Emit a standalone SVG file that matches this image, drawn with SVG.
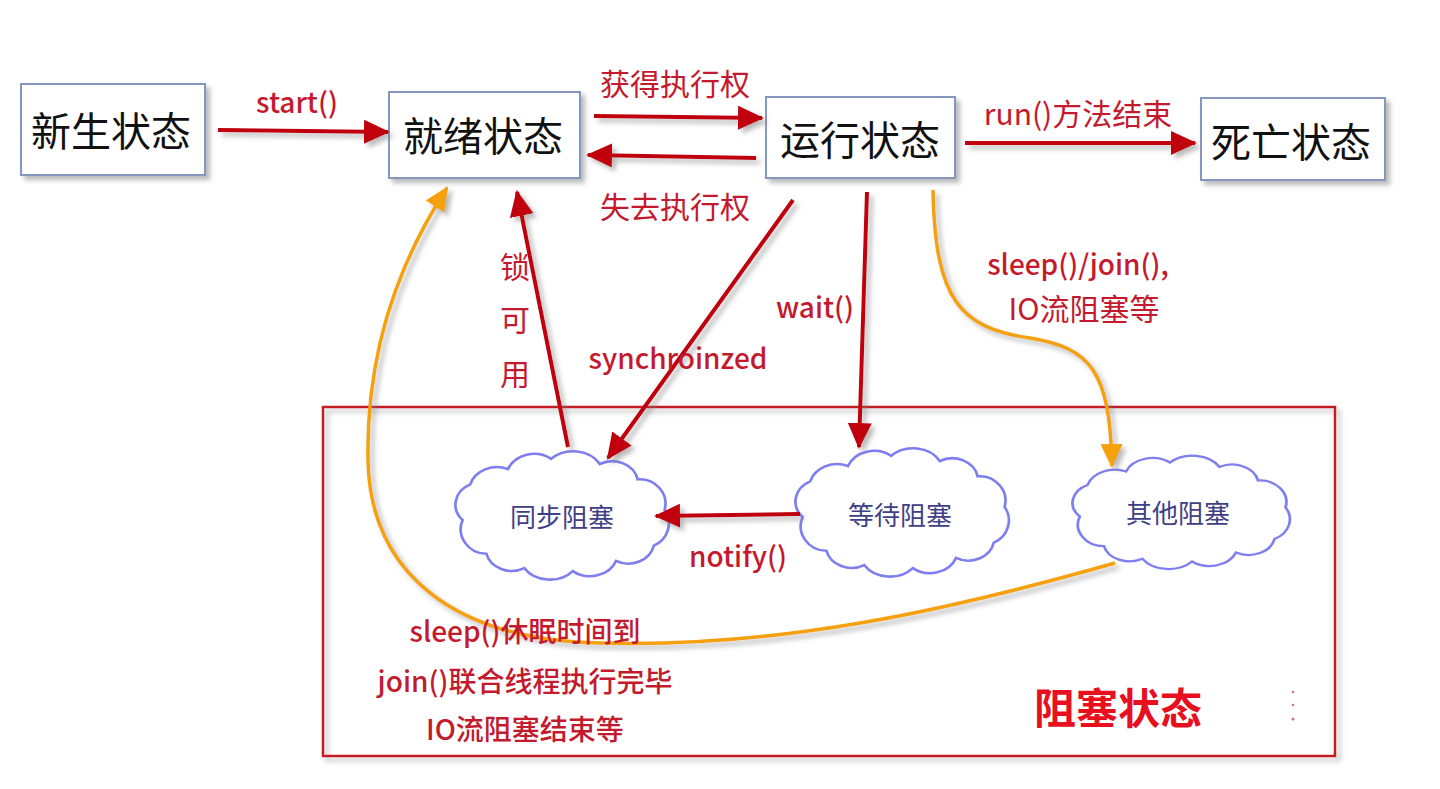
<svg xmlns="http://www.w3.org/2000/svg" width="1440" height="789" viewBox="0 0 1440 789">
<style>
  .box { fill: #ffffff; stroke: #8597be; stroke-width: 2; }
  .boxtext { font-family: "Noto Sans CJK SC", sans-serif; font-size: 40px; fill: #111111; text-anchor: middle; dominant-baseline: central; }
  .lbl { font-family: "Noto Sans CJK SC", sans-serif; font-size: 28px; font-weight: 500; fill: #c41a2e; text-anchor: middle; dominant-baseline: central; }
  .lblc { font-family: "Noto Sans CJK SC", sans-serif; font-size: 30px; fill: #c41a2e; text-anchor: middle; dominant-baseline: central; }
  .red { fill: none; stroke: #c00010; stroke-width: 4; }
  .orange { fill: none; stroke: #f5a00a; stroke-width: 3.5; }
  .cloud { fill: #ffffff; stroke: #7e7ef0; stroke-width: 2.5; }
  .cloudtext { font-family: "Noto Sans CJK SC", sans-serif; font-size: 26px; fill: #3f3f86; text-anchor: middle; dominant-baseline: central; }
</style>
<defs>
  <filter id="sh" x="-20%" y="-20%" width="140%" height="140%">
    <feDropShadow dx="4" dy="4" stdDeviation="2.5" flood-color="#808080" flood-opacity="0.55"/>
  </filter>
  <marker id="ar" markerUnits="userSpaceOnUse" markerWidth="30" markerHeight="26" refX="24" refY="12" orient="auto">
    <path d="M0,0 L26,12 L0,24 Z" fill="#c00010"/>
  </marker>
  <marker id="ao" markerUnits="userSpaceOnUse" markerWidth="30" markerHeight="26" refX="22" refY="11" orient="auto">
    <path d="M0,0 L24,11 L0,22 Z" fill="#f5a00a"/>
  </marker>
  <path id="cloudshape" d="M -92,5 A 24 22 0 0 1 -85,-30 A 26 24 0 0 1 -50,-45 A 26 24 0 0 1 -10,-55 A 28 24 0 0 1 35,-50 A 24 22 0 0 1 70,-35 A 24 24 0 0 1 95,-5 A 24 24 0 0 1 85,30 A 24 22 0 0 1 50,45 A 26 24 0 0 1 10,55 A 28 24 0 0 1 -35,52 A 24 22 0 0 1 -70,38 A 24 24 0 0 1 -92,5 Z"/>
</defs>
<rect width="1440" height="789" fill="#ffffff"/>

<g id="blocked-state">
  <rect x="323" y="407" width="1012" height="349" fill="none" stroke="#c41a24" stroke-width="2.5" filter="url(#sh)"/>
  <text x="1118" y="705" font-family="Noto Sans CJK SC, sans-serif" font-size="42" font-weight="bold" fill="#e8101f" text-anchor="middle" dominant-baseline="central">阻塞状态</text>
  <circle cx="1293" cy="692" r="1.3" fill="#d07090"/>
  <circle cx="1293" cy="705" r="1.3" fill="#d07090"/>
  <circle cx="1293" cy="719" r="1.5" fill="#d07090"/>
</g>

<g id="new">
  <rect class="box" x="21" y="84" width="184" height="91" filter="url(#sh)"/>
  <text class="boxtext" x="111" y="129">新生状态</text>
</g>
<g id="ready">
  <rect class="box" x="389" y="92" width="191" height="86" filter="url(#sh)"/>
  <text class="boxtext" x="483" y="134">就绪状态</text>
</g>
<g id="running">
  <rect class="box" x="766" y="97" width="189" height="81" filter="url(#sh)"/>
  <text class="boxtext" x="860" y="138">运行状态</text>
</g>
<g id="dead">
  <rect class="box" x="1201" y="98" width="184" height="82" filter="url(#sh)"/>
  <text class="boxtext" x="1291" y="140">死亡状态</text>
</g>

<g id="sync-block">
  <use href="#cloudshape" class="cloud" transform="translate(562,515) scale(1.08,1.02)"/>
  <text class="cloudtext" x="562" y="515">同步阻塞</text>
</g>
<g id="wait-block">
  <use href="#cloudshape" class="cloud" transform="translate(902,512) scale(1.08,1.02)"/>
  <text class="cloudtext" x="900" y="513">等待阻塞</text>
</g>
<g id="other-block">
  <use href="#cloudshape" class="cloud" transform="translate(1181,512) scale(1.1,0.9)"/>
  <text class="cloudtext" x="1178" y="511">其他阻塞</text>
</g>

<g id="connectors" filter="url(#sh)">
  <path class="red" d="M218,130 L388,132" marker-end="url(#ar)"/>
  <path class="red" d="M594,116 L762,118" marker-end="url(#ar)"/>
  <path class="red" d="M756,158 L588,155" marker-end="url(#ar)"/>
  <path class="red" d="M965,143 L1195,143" marker-end="url(#ar)"/>
  <path class="red" d="M568,447 L517,192" marker-end="url(#ar)"/>
  <path class="red" d="M793,200 L608,458" marker-end="url(#ar)"/>
  <path class="red" d="M867,192 L859,447" marker-end="url(#ar)"/>
  <path class="red" d="M800,514 L656,516" marker-end="url(#ar)"/>
  <path class="orange" d="M933,190 C935,300 960,328 1030,338 C1090,348 1110,370 1112,466" marker-end="url(#ao)"/>
  <path class="orange" d="M1115,563 C950,610 780,648 600,643 C450,640 370,570 368,460 C366,350 400,260 447,188" marker-end="url(#ao)"/>
</g>

<g id="labels">
  <text class="lbl" x="297" y="101" font-size="27">start()</text>
  <text class="lblc" x="675" y="82">获得执行权</text>
  <text class="lblc" x="675" y="205">失去执行权</text>
  <text class="lblc" x="1078" y="112">run()方法结束</text>
  <text class="lbl" x="1078" y="263" font-size="29">sleep()/join(),</text>
  <text class="lblc" x="1084" y="307">IO流阻塞等</text>
  <text class="lbl" x="815" y="306" font-size="29">wait()</text>
  <text class="lbl" x="678" y="357" font-size="27">synchroinzed</text>
  <text class="lblc" x="515" y="265">锁</text>
  <text class="lblc" x="515" y="318">可</text>
  <text class="lblc" x="515" y="372">用</text>
  <text class="lbl" x="738" y="555" font-size="27">notify()</text>
  <text class="lbl" x="525" y="630">sleep()休眠时间到</text>
  <text class="lbl" x="525" y="680">join()联合线程执行完毕</text>
  <text class="lbl" x="525" y="728">IO流阻塞结束等</text>
</g>
</svg>
